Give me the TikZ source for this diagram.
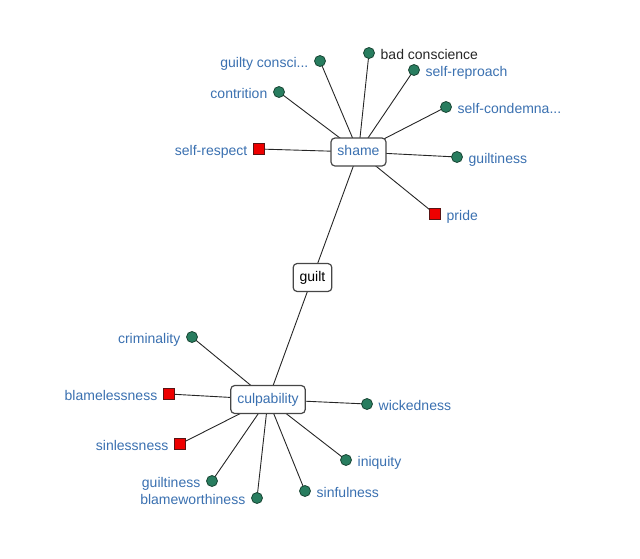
\documentclass[tikz,border=0pt]{standalone}
\usepackage{fontspec}
\setmainfont{Liberation Sans}
\usetikzlibrary{calc}
\definecolor{lblue}{RGB}{58,112,176}
\definecolor{dgreen}{RGB}{40,125,95}
\definecolor{dgreenb}{RGB}{25,70,52}
\definecolor{sqred}{RGB}{238,0,0}
\definecolor{sqredb}{RGB}{90,20,20}
\definecolor{hubgray}{RGB}{70,70,70}
\pgfdeclarelayer{background}
\pgfsetlayers{background,main}
\begin{document}
\begin{tikzpicture}[x=1pt,y=-1pt,
  hub/.style={draw=hubgray, line width=1.2pt, rounded corners=4pt, fill=white,
    minimum height=28pt, inner xsep=6.5pt, inner ysep=0pt,
    text height=10pt, text depth=3pt, font=\fontsize{14}{16}\selectfont},
  dot/.style={circle, draw=dgreenb, fill=dgreen, minimum size=11pt, inner sep=0pt, line width=0.8pt},
  sq/.style={rectangle, draw=sqredb, fill=sqred, minimum size=11pt, inner sep=0pt, line width=0.8pt},
  lbl/.style={text=lblue, inner sep=0pt, font=\fontsize{14}{16}\selectfont},
  lblk/.style={text=black!85, inner sep=0pt, font=\fontsize{14}{16}\selectfont},
  link/.style={draw=black!85, line width=0.9pt}]
\useasboundingbox (0,0) rectangle (640,558);
% hubs
\node[hub, text=lblue] (shame) at (358.5,152) {shame};
\node[hub, text=black] (guilt) at (312.5,277.5) {guilt};
\node[hub, text=lblue] (culp) at (268,399.5) {culpability};
% shame leaves
\node[dot] (gc) at (320,61) {};
\node[dot] (bc) at (369,53) {};
\node[dot] (sr) at (414,70) {};
\node[dot] (co) at (279,92) {};
\node[dot] (scd) at (446,107) {};
\node[sq] (sresp) at (259,149) {};
\node[dot] (glA) at (457,157) {};
\node[sq] (pr) at (435,214) {};
% culpability leaves
\node[dot] (cr) at (192,337) {};
\node[sq] (bl) at (169,394) {};
\node[sq] (sl) at (180,444) {};
\node[dot] (glB) at (212,481) {};
\node[dot] (bw) at (257,498) {};
\node[dot] (sf) at (305,491) {};
\node[dot] (iq) at (346,460) {};
\node[dot] (wk) at (367,404) {};
% labels
\node[lbl, anchor=base east] (gcL) at ($(gc)+(-11.5,6)$) {guilty consci...};
\node[lblk, anchor=base west] (bcL) at ($(bc)+(11.5,6)$) {bad conscience};
\node[lbl, anchor=base west] (srL) at ($(sr)+(11.5,6)$) {self-reproach};
\node[lbl, anchor=base east] (coL) at ($(co)+(-11.5,6)$) {contrition};
\node[lbl, anchor=base west] (scdL) at ($(scd)+(11.5,6)$) {self-condemna...};
\node[lbl, anchor=base east] (srespL) at ($(sresp)+(-11.5,6)$) {self-respect};
\node[lbl, anchor=base west] (glAL) at ($(glA)+(11.5,6)$) {guiltiness};
\node[lbl, anchor=base west] (prL) at ($(pr)+(11.5,6)$) {pride};
\node[lbl, anchor=base east] (crL) at ($(cr)+(-11.5,6)$) {criminality};
\node[lbl, anchor=base east] (blL) at ($(bl)+(-11.5,6)$) {blamelessness};
\node[lbl, anchor=base east] (slL) at ($(sl)+(-11.5,6)$) {sinlessness};
\node[lbl, anchor=base east] (glBL) at ($(glB)+(-11.5,6)$) {guiltiness};
\node[lbl, anchor=base east] (bwL) at ($(bw)+(-11.5,6)$) {blameworthiness};
\node[lbl, anchor=base west] (sfL) at ($(sf)+(11.5,6)$) {sinfulness};
\node[lbl, anchor=base west] (iqL) at ($(iq)+(11.5,6)$) {iniquity};
\node[lbl, anchor=base west] (wkL) at ($(wk)+(11.5,6)$) {wickedness};
% edges
\begin{pgfonlayer}{background}
\foreach \n in {gc,bc,sr,co,scd,sresp,glA,pr,guilt}
  \draw[link] (shame.center) -- (\n.center);
\foreach \n in {cr,bl,sl,glB,bw,sf,iq,wk,guilt}
  \draw[link] (culp.center) -- (\n.center);
\end{pgfonlayer}
\end{tikzpicture}
\end{document}
